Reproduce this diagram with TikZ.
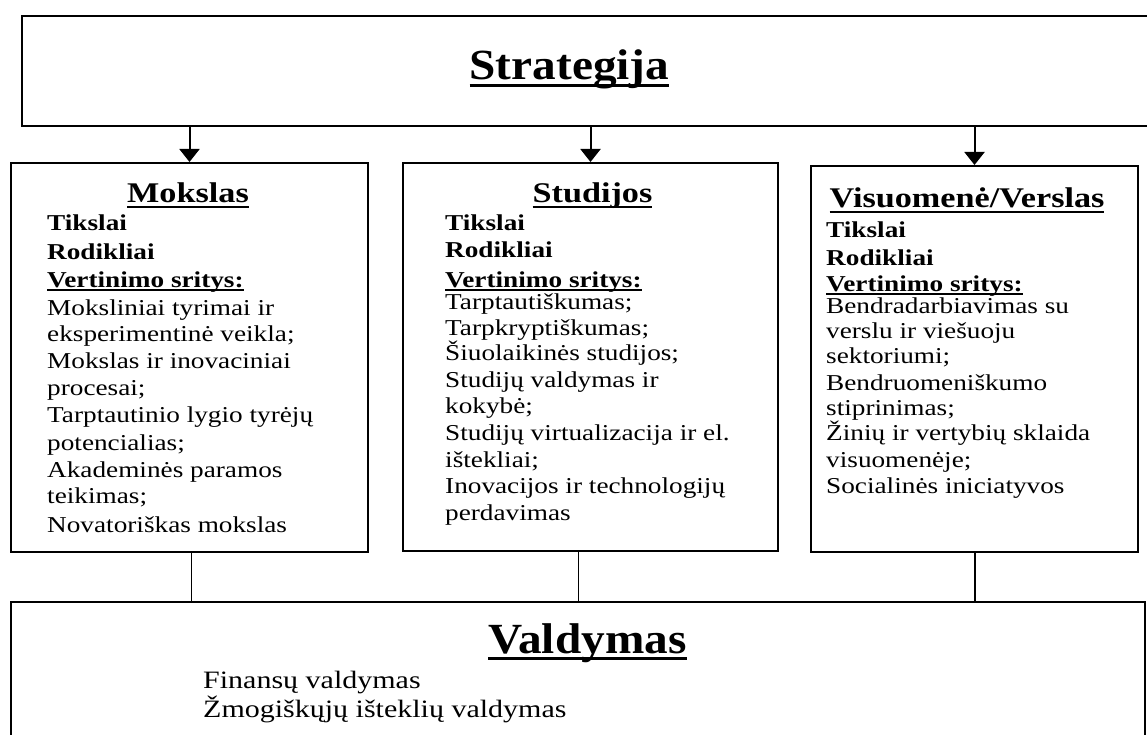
\documentclass[tikz,border=0pt]{standalone}
\usepackage{fontspec}
\setmainfont{Liberation Serif}
\newfontfamily\bodyf[FakeStretch=1.2]{Liberation Serif}
\newfontfamily\bigf[FakeStretch=1.1]{Liberation Serif}
\usetikzlibrary{arrows.meta,calc}
\newcommand\ulx[1]{\setbox0=\hbox{#1}\rlap{\rule[-0.16em]{\wd0}{0.07em}}\box0}
\begin{document}
\begin{tikzpicture}[x=1pt,y=-1pt,
  frame/.style={draw=black,line width=2pt,rectangle,inner sep=0pt},
  arr/.style={line width=2pt,-{Triangle[width=20pt,length=13pt]}},
  conn/.style={line width=1.6pt},
  bigt/.style={anchor=base,inner sep=0pt,font=\bigf\bfseries\fontsize{43}{50}\selectfont},
  ttl/.style={anchor=base,inner sep=0pt,font=\bodyf\bfseries\fontsize{28.5}{34}\selectfont},
  bld/.style={anchor=base west,inner sep=0pt,font=\bodyf\bfseries\fontsize{22.7}{27}\selectfont},
  txt/.style={anchor=base west,inner sep=0pt,font=\bodyf\fontsize{22.7}{27}\selectfont},
  btxt/.style={anchor=base west,inner sep=0pt,font=\bodyf\fontsize{25}{29}\selectfont}]
\useasboundingbox (0,0) rectangle (1147,735);
\fill[white] (0,0) rectangle (1147,735);

% boxes
\node[frame,minimum width=1143pt,minimum height=110pt] (strat) at (593.5,71) {};
\node[frame,minimum width=357pt,minimum height=389pt] (mok) at (189.5,357.5) {};
\node[frame,minimum width=375pt,minimum height=388pt] (stu) at (590.5,357) {};
\node[frame,minimum width=327pt,minimum height=385.5pt] (vis) at (974.5,358.75) {};
\node[frame,minimum width=1134pt,minimum height=178pt] (val) at (578,691) {};

% arrows
\draw[arr] (mok.north |- strat.south) -- (mok.north);
\draw[arr] (stu.north |- strat.south) -- (stu.north);
\draw[arr] (vis.north |- strat.south) -- (vis.north);

% connectors to Valdymas
\coordinate (mb) at ($(mok.south)+(2,0)$);
\coordinate (sb) at ($(stu.south)+(-12,0)$);
\coordinate (vb) at ($(vis.south)+(0.5,0)$);
\draw[conn] (mb) -- (mb |- val.north);
\draw[conn] (sb) -- (sb |- val.north);
\draw[conn] (vb) -- (vb |- val.north);

% titles
\node[bigt] (tS) at (569.5,80) {\ulx{Strategija}};
\node[bigt] (tV) at (587.5,653) {\ulx{Valdymas}};

% Mokslas
\node[ttl] (m0) at (188,203) {\ulx{Mokslas}};
\node[bld] (m1) at (47,231) {Tikslai};
\node[bld] (m2) at (47,259) {Rodikliai};
\node[bld] (m3) at (47,287) {\ulx{Vertinimo sritys:}};
\node[txt] (m4) at (47,315) {Moksliniai tyrimai ir};
\node[txt] (m5) at (47,341) {eksperimentinė veikla;};
\node[txt] (m6) at (47,368) {Mokslas ir inovaciniai};
\node[txt] (m7) at (47,395) {procesai;};
\node[txt] (m8) at (47,422) {Tarptautinio lygio tyrėjų};
\node[txt] (m9) at (47,450) {potencialias;};
\node[txt] (m10) at (47,477) {Akademinės paramos};
\node[txt] (m11) at (47,503) {teikimas;};
\node[txt] (m12) at (47,532) {Novatoriškas mokslas};

% Studijos
\node[ttl] (s0) at (592.5,203) {\ulx{Studijos}};
\node[bld] (s1) at (445,230) {Tikslai};
\node[bld] (s2) at (445,258) {Rodikliai};
\node[bld] (s3) at (445,287) {\ulx{Vertinimo sritys:}};
\node[txt] (s4) at (445,309) {Tarptautiškumas;};
\node[txt] (s5) at (445,335) {Tarpkryptiškumas;};
\node[txt] (s6) at (445,360) {Šiuolaikinės studijos;};
\node[txt] (s7) at (445,387) {Studijų valdymas ir};
\node[txt] (s8) at (445,413) {kokybė;};
\node[txt] (s9) at (445,440) {Studijų virtualizacija ir el.};
\node[txt] (s10) at (445,467) {ištekliai;};
\node[txt] (s11) at (445,493) {Inovacijos ir technologijų};
\node[txt] (s12) at (445,520) {perdavimas};

% Visuomene/Verslas
\node[ttl] (v0) at (967,208) {\ulx{Visuomenė/Verslas}};
\node[bld] (v1) at (826,237) {Tikslai};
\node[bld] (v2) at (826,265) {Rodikliai};
\node[bld] (v3) at (826,291) {\ulx{Vertinimo sritys:}};
\node[txt] (v4) at (826,313) {Bendradarbiavimas su};
\node[txt] (v5) at (826,338) {verslu ir viešuoju};
\node[txt] (v6) at (826,363) {sektoriumi;};
\node[txt] (v7) at (826,390) {Bendruomeniškumo};
\node[txt] (v8) at (826,415) {stiprinimas;};
\node[txt] (v9) at (826,440) {Žinių ir vertybių sklaida};
\node[txt] (v10) at (826,467) {visuomenėje;};
\node[txt] (v11) at (826,493) {Socialinės iniciatyvos};

% Valdymas items
\node[btxt] (f1) at (203,688) {Finansų valdymas};
\node[btxt] (f2) at (203,717) {Žmogiškųjų išteklių valdymas};
\end{tikzpicture}
\end{document}
